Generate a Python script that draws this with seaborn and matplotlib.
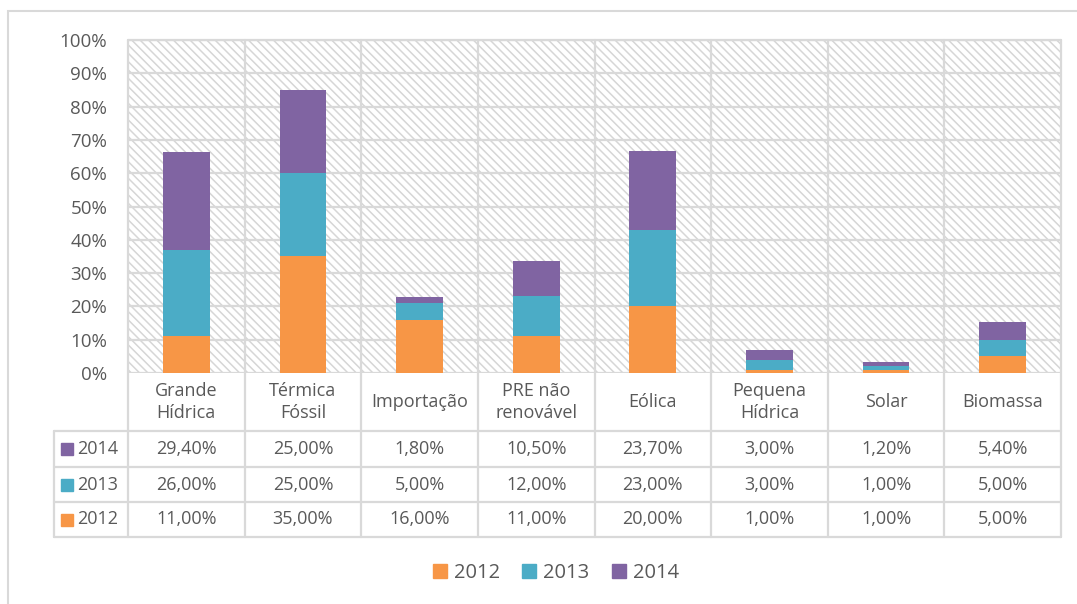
import pandas as pd
import seaborn as sns
import matplotlib.pyplot as plt
import matplotlib.transforms as mtransforms
from matplotlib.patches import Rectangle, Patch

# dados
categories = ['Grande\nHídrica', 'Térmica\nFóssil', 'Importação', 'PRE não\nrenovável',
              'Eólica', 'Pequena\nHídrica', 'Solar', 'Biomassa']
years = ['2012', '2013', '2014']
v2012 = [11.0, 35.0, 16.0, 11.0, 20.0, 1.0, 1.0, 5.0]
v2013 = [26.0, 25.0, 5.0, 12.0, 23.0, 3.0, 1.0, 5.0]
v2014 = [29.4, 25.0, 1.8, 10.5, 23.7, 3.0, 1.2, 5.4]
yticks = list(range(0, 101, 10))

colors = {'2012': '#F79646', '2013': '#4BACC6', '2014': '#8064A2'}
GRID = '#D9D9D9'
TXT = '#595959'
FS = 13

sns.set_style('white')
plt.rcParams['font.family'] = ['Open Sans', 'DejaVu Sans']
plt.rcParams['hatch.color'] = '#D6D6D6'
plt.rcParams['hatch.linewidth'] = 1.1

W, H = 1077, 604
fig = plt.figure(figsize=(W / 100, H / 100), dpi=100)
L, R, T, B = 128, 1061, 40, 373
ax = fig.add_axes([L / W, 1 - B / H, (R - L) / W, (B - T) / H])


def ax_x(px):
    return (px - L) / (R - L)


def ax_y(py):
    return (B - py) / (B - T)


# fundo tracejado
ax.add_patch(Rectangle((0, 0), 1, 1, transform=ax.transAxes, facecolor='white',
                       edgecolor='#D6D6D6', hatch='\\\\\\\\', lw=0, zorder=0))

# barras empilhadas (totais acumulados desenhados do maior para o menor)
df = pd.DataFrame({'fonte': categories, '2012': v2012, '2013': v2013, '2014': v2014})
df['cum2013'] = df['2012'] + df['2013']
df['cum2014'] = df['cum2013'] + df['2014']
for col, year in [('cum2014', '2014'), ('cum2013', '2013'), ('2012', '2012')]:
    sns.barplot(data=df, x='fonte', y=col, order=categories, color=colors[year],
                saturation=1, width=0.4, linewidth=0, errorbar=None, ax=ax, zorder=3)

ax.set_xlim(-0.5, len(categories) - 0.5)
ax.set_ylim(0, 100)
ax.set_yticks(yticks)
ax.set_yticklabels([f'{v}%' for v in yticks], fontsize=13.5, color=TXT)
ax.set_xticks([])
ax.set_xlabel('')
ax.set_ylabel('')
ax.tick_params(axis='y', length=0, pad=15)
ax.yaxis.grid(True, color=GRID, lw=1.6)
ax.set_axisbelow(True)
for s in ax.spines.values():
    s.set_visible(False)

# linhas da grelha e da tabela
line_kw = dict(color=GRID, lw=1.6, clip_on=False, transform=ax.transAxes, zorder=1)
y_bot = ax_y(537)
n = len(categories)
for i in range(n + 1):
    ax.plot([i / n, i / n], [1, y_bot], **line_kw)
ax.plot([0, 1], [1, 1], **line_kw)
for py in [431, 467, 502, 537]:
    ax.plot([ax_x(54), 1], [ax_y(py), ax_y(py)], **line_kw)
ax.plot([ax_x(54), ax_x(54)], [ax_y(431), y_bot], **line_kw)

blend = mtransforms.blended_transform_factory(ax.transData, ax.transAxes)
for i, cat in enumerate(categories):
    ax.text(i, ax_y(402), cat, transform=blend, ha='center', va='center',
            fontsize=FS, color=TXT, linespacing=1.35)

rows = [('2014', v2014, 449), ('2013', v2013, 484.5), ('2012', v2012, 519.5)]
for year, vals, py in rows:
    yy = ax_y(py)
    ax.plot([ax_x(67)], [yy], marker='s', markersize=8, color=colors[year],
            transform=ax.transAxes, clip_on=False, zorder=4)
    ax.text(ax_x(77), yy, year, transform=ax.transAxes, ha='left', va='center',
            fontsize=FS, color=TXT)
    for i, v in enumerate(vals):
        ax.text(i, yy, f'{v:.2f}'.replace('.', ',') + '%', transform=blend,
                ha='center', va='center', fontsize=FS, color=TXT)

handles = [Patch(color=colors[y], label=y) for y in years]
fig.legend(handles=handles, loc='center', bbox_to_anchor=(556 / W, 1 - 573 / H), ncol=3,
           frameon=False, handlelength=0.7, handleheight=0.7, handletextpad=0.35,
           columnspacing=1.1, fontsize=14.5, labelcolor=TXT)

# moldura exterior
fig.add_artist(Rectangle((8 / W, -0.1), 2, 1 - 11 / H + 0.1, transform=fig.transFigure,
                         fill=False, edgecolor=GRID, lw=1.5))

fig.savefig('out.png', dpi=100)
